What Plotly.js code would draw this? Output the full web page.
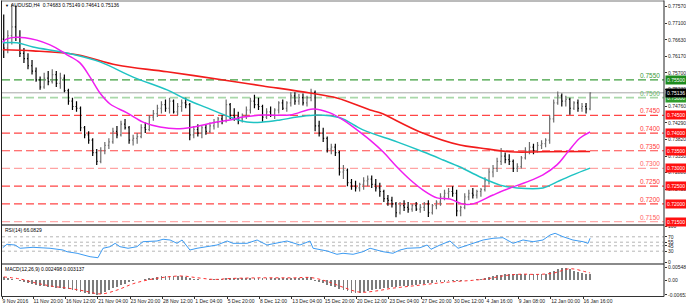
<!DOCTYPE html>
<html><head><meta charset="utf-8">
<script src="https://cdn.plot.ly/plotly-3.0.1.min.js"></script>
<style>html,body{margin:0;padding:0;background:#fff}#c{width:686px;height:308px}</style>
</head><body><div id="c"></div>
<script>
// ---- data (prices in pips x1e-4, one candle = two H4 bars) ----
const openP = [7665,7640,7675,7700,7670,7625,7610,7590,7575,7550,
7530,7555,7545,7565,7540,7555,7520,7490,7475,7470,
7415,7395,7380,7345,7320,7350,7365,7375,7405,7395,
7425,7415,7380,7385,7390,7415,7410,7445,7455,7470,
7480,7470,7490,7460,7475,7485,7480,7395,7410,7400,
7415,7405,7420,7430,7440,7435,7480,7450,7445,7440,
7450,7465,7490,7480,7475,7445,7460,7450,7465,7485,
7470,7485,7505,7490,7500,7485,7500,7515,7420,7400,
7385,7355,7360,7345,7290,7295,7260,7250,7245,7255,
7265,7270,7255,7245,7235,7215,7210,7200,7175,7195,
7190,7185,7195,7185,7190,7200,7175,7195,7205,7220,
7230,7235,7230,7180,7190,7220,7230,7225,7235,7240,
7265,7290,7300,7320,7335,7325,7320,7300,7305,7330,
7350,7360,7350,7365,7370,7380,7440,7485,7505,7490,
7495,7470,7485,7470,7475,7468.3];
const highP = [7735,7690,7765,7760,7690,7640,7625,7606,7585,7560,
7570,7575,7580,7575,7570,7565,7525,7500,7490,7475,
7420,7405,7385,7355,7360,7375,7385,7415,7420,7435,
7440,7420,7395,7400,7425,7430,7450,7465,7480,7490,
7495,7500,7495,7485,7495,7500,7485,7420,7425,7420,
7425,7430,7440,7445,7450,7495,7485,7470,7460,7455,
7475,7500,7508,7500,7480,7470,7475,7470,7490,7495,
7490,7515,7515,7510,7512,7505,7525,7520,7435,7415,
7390,7370,7370,7350,7310,7300,7270,7265,7260,7275,
7280,7280,7270,7260,7240,7225,7220,7205,7205,7210,
7205,7200,7205,7200,7205,7210,7200,7210,7230,7240,
7245,7250,7240,7195,7230,7240,7245,7240,7245,7275,
7300,7310,7330,7358,7345,7340,7325,7315,7335,7360,
7375,7370,7375,7380,7385,7450,7495,7517,7512,7505,
7500,7490,7495,7485,7485,7514.9];
const lowP = [7612,7625,7650,7660,7615,7598,7580,7565,7545,7522,
7525,7535,7540,7530,7525,7515,7480,7465,7460,7405,
7385,7370,7335,7310,7315,7340,7355,7370,7385,7390,
7410,7370,7365,7370,7385,7400,7405,7435,7445,7455,
7460,7455,7455,7450,7460,7470,7380,7385,7390,7385,
7395,7400,7410,7415,7425,7430,7440,7435,7425,7430,
7440,7455,7470,7465,7432,7440,7445,7440,7455,7465,
7460,7475,7480,7480,7478,7475,7490,7405,7390,7375,
7345,7340,7335,7280,7270,7250,7240,7235,7235,7240,
7250,7245,7235,7220,7205,7195,7190,7162,7170,7180,
7175,7178,7180,7175,7180,7163,7170,7185,7195,7210,
7215,7220,7165,7165,7185,7210,7215,7215,7220,7235,
7255,7275,7290,7310,7315,7310,7290,7290,7300,7325,
7340,7340,7345,7355,7360,7370,7430,7480,7475,7475,
7452,7465,7460,7460,7455,7464.1];
const closeP = [7640,7675,7700,7670,7625,7610,7590,7575,7550,7530,
7555,7545,7565,7540,7555,7520,7490,7475,7470,7415,
7395,7380,7345,7320,7350,7365,7375,7405,7395,7425,
7415,7380,7385,7390,7415,7410,7445,7455,7470,7480,
7470,7490,7460,7475,7485,7480,7395,7410,7400,7415,
7405,7420,7430,7440,7435,7480,7450,7445,7440,7450,
7465,7490,7480,7475,7445,7460,7450,7465,7485,7470,
7485,7505,7490,7500,7485,7500,7515,7420,7400,7385,
7355,7360,7345,7290,7295,7260,7250,7245,7255,7265,
7270,7255,7245,7235,7215,7210,7200,7175,7195,7190,
7185,7195,7185,7190,7200,7175,7195,7205,7220,7230,
7235,7230,7180,7190,7220,7230,7225,7235,7240,7265,
7290,7300,7320,7335,7325,7320,7300,7305,7330,7350,
7360,7350,7365,7370,7380,7440,7485,7505,7490,7495,
7470,7485,7470,7475,7468,7513.6];

// moving averages: bar index / price (pips)
const maFastX = [0,2.1,11,23.4,31.8,38.2,43.2,48.1,53.1,61.5,69.4,77.8,86.2,94.1,104,112.4,118.9,128.7,142.1,153.5,161.9,168.3,175.2,181.7,188.1,195,201.5,207.9,214.8,221.2,227.2,232.6,242.5,250.9,259.3,267.2,274.1,279.1,285.5,290.5];
const maFastV = [7657,7666,7669,7649,7621,7598,7558,7513,7482,7457,7431,7417,7412,7417,7429,7437,7445,7451,7451,7468,7457,7437,7409,7380,7347,7304,7268,7239,7217,7214,7200,7200,7225,7245,7262,7282,7310,7344,7386,7403];
const maMidX = [0,7.1,15,31.8,48.1,64.5,81.3,91.2,101.1,112.4,120.8,128.7,137.2,145.6,155.5,166.8,178.2,195,207.9,217.8,226.2,236.1,246,254.4,267.2,274.1,282,290.5];
const maMidV = [7655,7655,7643,7626,7601,7558,7522,7494,7471,7445,7431,7431,7437,7445,7451,7443,7409,7375,7347,7324,7304,7276,7253,7245,7245,7262,7282,7301];
const maSlowX = [0,15,36.8,56.5,81.3,112.4,128.7,152,165.3,181.7,186.6,206.4,226.2,236.1,250.9,267.2,290.5];
const maSlowV = [7635,7632,7621,7592,7573,7547,7533,7513,7499,7465,7457,7403,7366,7358,7347,7347,7348];

// RSI(14): bar index / value
const rsiX = [0,2.1,6.1,8.6,15,23.4,29.8,31.8,36.8,43.2,47.1,49.6,53.1,55.6,58,62,66.4,69.4,76.3,79.3,82.8,86.2,88.7,91.2,92.6,96.1,101.1,106,111,113.9,120.8,125.8,130.7,135.7,140.6,147,152,153.5,160.4,165.3,168.3,173.3,178.2,181.7,188.1,193,196.5,200,206.4,209.9,211.8,216.3,221.2,225.2,231.1,237.6,242.5,247.4,252.4,257.3,262.3,267.2,270.7,273.2,277.1,282,287,289.5,290.5];
const rsiV = [39.7,49.2,47.2,38.1,40.8,38.1,33.3,28.6,24.2,14.7,11.9,38.1,42.5,51.9,42.5,38.1,42.5,56.4,58.3,63.1,61.1,51.9,61.1,42.5,33.3,38.1,42.5,47.2,58.3,51.9,51.9,61.1,47.2,51.9,58.3,47.2,58.3,38.1,30.6,21.4,24.2,21.4,28.6,38.1,28.6,24.2,33.3,38.1,39.7,47.2,35.3,47.2,58.3,38.1,49.2,61.1,65.8,67.5,51.9,61.1,56.4,61.1,75,79.7,70.3,61.1,56.4,51.9,66.08];

// MACD(12,26,9) main (x1e-4), one per candle; signal sampled every 4 candles
const macdMain = [12,10,6,2,-3,-8,-13,-17,-22,-25,
-27,-29,-31,-33,-35,-38,-41,-44,-48,-52,
-56,-60,-63,-65.32,-60,-52,-44,-36,-29,-22,
-15,-9,-4,-1,2,5,8,11,14,16,
18,19,19,18,17,15,10,6,3,2,
2,3,4,5,7,9,9,9,8,8,
9,10,11,11,10,10,9,9,10,10,
10,11,11,11,11,12,12,-2,-8,-14,
-20,-26,-32,-38,-44,-50,-55,-58,-57,-52,
-48,-44,-41,-38,-35,-33,-31,-30,-28,-26,
-24,-22,-20,-18,-16,-14,-12,-10,-8,-7,
-6,-5,-5,-3,-1,1,2,4,6,9,
13,17,21,24,26,27,26,25,25,25,
25,25,25,26,28,34,42,50,54.84,54,
48,42,37,33,29,24.98];
const sigCandle = [0,4,8,12,16,20,24,28,32,36,40,44,48,52,56,60,64,68,72,76,80,84,88,92,96,100,104,108,112,116,120,124,128,132,136,140,144,145];
const sigV = [14,5,-13,-27,-36,-48,-61,-44,-16,2,13,18,10,3,7,9,10,10,10,11,-6,-32,-53,-48,-36,-28,-20,-12,-6,-1,7,20,26,25,31,50,36,31.37];

const timeLabels = ["9 Nov 2016","11 Nov 20:00","16 Nov 12:00","21 Nov 04:00","23 Nov 20:00","28 Nov 12:00","1 Dec 04:00","5 Dec 20:00","8 Dec 12:00","13 Dec 04:00","15 Dec 20:00","20 Dec 12:00","23 Dec 04:00","27 Dec 20:00","30 Dec 12:00","4 Jan 16:00","9 Jan 08:00","12 Jan 00:00","16 Jan 16:00"];
const timeBars = [-0.3,15,31,47,63,79,95,111,127,143,159,175,191,207,223,239,255,271,287];
const priceTicks = [0.7757,0.7710,0.7663,0.7617,0.7570,0.7523,0.7476,0.7429,0.7382,0.7335,0.7288,0.7241];
const levels = [0.7550,0.7500,0.7450,0.7400,0.7350,0.7300,0.7250,0.7200,0.7150];
const levelLine = ['#3f9f3f','#a9d8a9','#ff4646','#ff4646','#ff4646','#ffa3a3','#ff4646','#ff4646','#ffabab'];
const levelText = ['#3a9a3a','#66b866','#ff3838','#ff3838','#ff3838','#ff5e5e','#ff3838','#ff3838','#ff5e5e'];
const levelBox = ['#1e8c1e','#2e9e2e','#ff1010','#ff1010','#ff1010','#ff1010','#ff1010','#ff1010','#ff1010'];
const bid = 0.75136;
const rsiLevels = [30,45,55,70];

// ---- build ----
const W=686,H=308;
const px=x=>x/W, py=y=>1-y/H;
const p=v=>v/10000;
const cx = openP.map((_,k)=>2*k+0.5);
const FONT='"Liberation Sans", Arial, sans-serif';

const traces = [
 {type:'ohlc', x:cx, open:openP.map(p), high:highP.map(p), low:lowP.map(p), close:closeP.map(p),
  xaxis:'x', yaxis:'y', tickwidth:0.25,
  increasing:{line:{color:'#6e6e6e',width:1.2}},
  decreasing:{line:{color:'#000',width:1.2}}, hoverinfo:'skip'},
 {type:'scatter', mode:'lines', x:maSlowX, y:maSlowV.map(p), line:{color:'#f21c1c',width:1.6,shape:'spline'}, xaxis:'x', yaxis:'y', hoverinfo:'skip'},
 {type:'scatter', mode:'lines', x:maMidX, y:maMidV.map(p), line:{color:'#1fc3c3',width:1.5,shape:'spline'}, xaxis:'x', yaxis:'y', hoverinfo:'skip'},
 {type:'scatter', mode:'lines', x:maFastX, y:maFastV.map(p), line:{color:'#f01ef0',width:1.5,shape:'spline'}, xaxis:'x', yaxis:'y', hoverinfo:'skip'},
 {type:'scatter', mode:'lines', x:rsiX, y:rsiV, line:{color:'#3d9bf2',width:1}, xaxis:'x2', yaxis:'y2', hoverinfo:'skip'},
 {type:'bar', x:cx, y:macdMain.map(p), width:0.9, marker:{color:'#7d7d7d',line:{width:0}}, xaxis:'x3', yaxis:'y3', hoverinfo:'skip'},
 {type:'scatter', mode:'lines', x:sigCandle.map(k=>2*k+0.5), y:sigV.map(p), line:{color:'#ff3030',width:1,dash:'dot',shape:'spline'}, xaxis:'x3', yaxis:'y3', hoverinfo:'skip'}
];

const xr=[-0.35,327.05];
const xbase={range:xr, domain:[px(2),px(664)], showgrid:false, zeroline:false, showticklabels:false, ticks:'', fixedrange:true, showline:false};
const tf={family:FONT,size:5,color:'#222'};

const shapes=[];
levels.forEach((l,i)=>shapes.push({type:'line',xref:'paper',yref:'y',x0:px(2),x1:px(664),y0:l,y1:l,layer:'below',line:{color:levelLine[i],width:i===1?1.6:1.2,dash:'8px,4px'}}));
shapes.push({type:'line',xref:'paper',yref:'y',x0:px(2),x1:px(664),y0:bid,y1:bid,layer:'below',line:{color:'#a8a8a8',width:1}});
rsiLevels.forEach(l=>shapes.push({type:'line',xref:'paper',yref:'y2',x0:px(2),x1:px(664),y0:l,y1:l,layer:'below',line:{color:'#b5b5b5',width:1,dash:'dot'}}));
// frame + pane separators
shapes.push({type:'rect',xref:'paper',yref:'paper',x0:px(1),x1:px(664),y0:py(226),y1:py(224),fillcolor:'#7a7a7a',line:{width:0}});
shapes.push({type:'rect',xref:'paper',yref:'paper',x0:px(1),x1:px(664),y0:py(265),y1:py(263),fillcolor:'#8a8a8a',line:{width:0}});
shapes.push({type:'line',xref:'paper',yref:'paper',x0:px(1.5),x1:px(664),y0:py(1),y1:py(1),line:{color:'#777',width:1}});
shapes.push({type:'line',xref:'paper',yref:'paper',x0:px(1.5),x1:px(1.5),y0:py(0.5),y1:py(296.5),line:{color:'#222',width:1}});
shapes.push({type:'line',xref:'paper',yref:'paper',x0:px(664),x1:px(664),y0:py(0.5),y1:py(296.5),line:{color:'#222',width:1}});
shapes.push({type:'line',xref:'paper',yref:'paper',x0:px(1.5),x1:px(664),y0:py(296.5),y1:py(296.5),line:{color:'#333',width:1}});

const ann=[];
levels.forEach((l,i)=>{
  ann.push({xref:'paper',yref:'y',x:px(661),y:l,xanchor:'right',yanchor:'bottom',text:l.toFixed(4),showarrow:false,font:{family:FONT,size:6.5,color:levelText[i]},borderpad:0});
  ann.push({xref:'paper',yref:'y',x:px(665),y:l,xanchor:'left',yanchor:'middle',text:l.toFixed(5),showarrow:false,font:{family:FONT,size:5,color:'#fff'},bgcolor:levelBox[i],borderpad:1});
});
ann.push({xref:'paper',yref:'y',x:px(665),y:bid,xanchor:'left',yanchor:'middle',text:bid.toFixed(5),showarrow:false,font:{family:FONT,size:5,color:'#fff'},bgcolor:'#000',borderpad:1});
ann.push({xref:'paper',yref:'paper',x:px(3),y:py(5),xanchor:'left',yanchor:'middle',text:'▼',showarrow:false,font:{family:FONT,size:4,color:'#000'}});
ann.push({xref:'paper',yref:'paper',x:px(9),y:py(5),xanchor:'left',yanchor:'middle',text:'AUDUSD,H4  0.74683 0.75149 0.74641 0.75136',showarrow:false,font:{family:FONT,size:5,color:'#000'}});
ann.push({xref:'paper',yref:'paper',x:px(3),y:py(230),xanchor:'left',yanchor:'middle',text:'RSI(14) 66.0829',showarrow:false,font:{family:FONT,size:5,color:'#000'}});
ann.push({xref:'paper',yref:'paper',x:px(3),y:py(269),xanchor:'left',yanchor:'middle',text:'MACD(12,26,9) 0.002498 0.003137',showarrow:false,font:{family:FONT,size:5,color:'#000'}});

const layout={
  width:W,height:H,margin:{l:0,r:0,t:0,b:0},paper_bgcolor:'#fff',plot_bgcolor:'#fff',
  showlegend:false,hovermode:false,bargap:0,
  xaxis:Object.assign({},xbase,{anchor:'y',rangeslider:{visible:false}}),
  xaxis2:Object.assign({},xbase,{anchor:'y2'}),
  xaxis3:Object.assign({},xbase,{anchor:'y3',showticklabels:true,tickmode:'array',tickvals:timeBars,ticktext:timeLabels,tickangle:0,ticks:'outside',ticklen:2,tickcolor:'#333',ticklabelposition:'outside right',tickfont:tf}),
  yaxis:{domain:[py(224),py(2)],range:[0.71432,0.7770],side:'right',anchor:'x',tickmode:'array',tickvals:priceTicks,ticktext:priceTicks.map(v=>v.toFixed(5)),ticks:'outside',ticklen:2,tickcolor:'#333',tickfont:tf,showgrid:false,zeroline:false,fixedrange:true},
  yaxis2:{domain:[py(262),py(226)],range:[0,100],side:'right',anchor:'x2',tickmode:'array',tickvals:[0,30,45,55,70,100],ticktext:['0','30','45','55','70','100'],ticks:'outside',ticklen:2,tickcolor:'#333',tickfont:tf,showgrid:false,zeroline:false,fixedrange:true},
  yaxis3:{domain:[py(296),py(266)],range:[-0.0070,0.0062],side:'right',anchor:'x3',tickmode:'array',tickvals:[0.005484,0,-0.006532],ticktext:['0.005484','0.00','-0.006532'],ticks:'outside',ticklen:2,tickcolor:'#333',tickfont:tf,showgrid:false,zeroline:false,fixedrange:true},
  shapes:shapes,annotations:ann
};
Plotly.newPlot('c',traces,layout,{staticPlot:true,displayModeBar:false});
</script></body></html>
